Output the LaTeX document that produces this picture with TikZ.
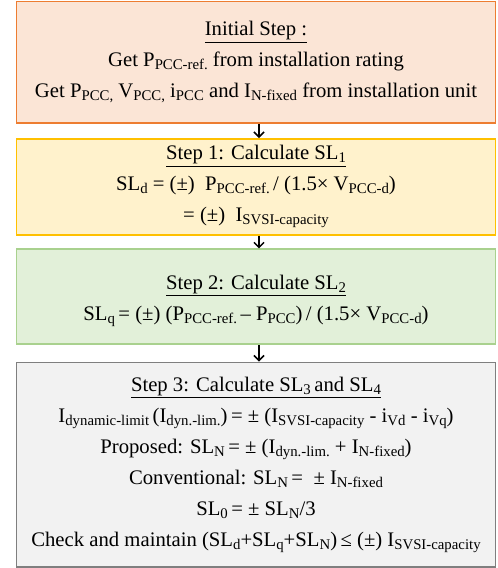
\documentclass[tikz,border=0pt]{standalone}
\usepackage{fontspec}
\setmainfont{Liberation Serif}
\usetikzlibrary{arrows.meta}
\newcommand{\sbs}[1]{\raisebox{-0.3ex}{\fontsize{14.8}{14.8}\selectfont #1}}
\definecolor{orB}{HTML}{ED7D31}\definecolor{orF}{HTML}{FBE5D6}
\definecolor{ylB}{HTML}{FFC000}\definecolor{ylF}{HTML}{FFF2CC}
\definecolor{grB}{HTML}{A9D18E}\definecolor{grF}{HTML}{E2F0D9}
\definecolor{gyB}{HTML}{7F7F7F}\definecolor{gyF}{HTML}{F2F2F2}
\tikzset{
  stepbox/.style={draw, line width=1.8pt, minimum width=479pt, inner sep=0pt, align=center,
    font=\fontsize{20.7}{31}\selectfont},
  arr/.style={line width=1.5pt, -{Straight Barb[length=5pt,width=10pt,line width=1.5pt]}}
}
\begin{document}
\begin{tikzpicture}[x=1pt,y=-1pt]
\useasboundingbox (0,0) rectangle (498,568);
\node[stepbox, draw=orB, fill=orF, minimum height=121.5pt] (b1) at (256,62.3)
 {\underline{Initial Step :}\\
  Get P\sbs{PCC-ref.} from installation rating\\
  Get P\sbs{PCC,} V\sbs{PCC,} i\sbs{PCC} and I\sbs{N-fixed} from installation unit};
\node[stepbox, draw=ylB, fill=ylF, minimum height=95.7pt] (b2) at (256,186.8)
 {\underline{Step 1: Calculate SL\sbs{1}}\\
  SL\sbs{d} = (±)\ \ P\sbs{PCC-ref.}\,/ (1.5× V\sbs{PCC-d})\\
  = (±)\ \ I\sbs{SVSI-capacity}};
\node[stepbox, draw=grB, fill=grF, minimum height=95pt] (b3) at (256,296.8) {};
\node[align=center, font=\fontsize{20.7}{31}\selectfont] (t3) at (256,301)
 {\underline{Step 2: Calculate SL\sbs{2}}\\
  SL\sbs{q}\,= (±) (P\sbs{PCC-ref.}\,– P\sbs{PCC})\,/ (1.5× V\sbs{PCC-d})};
\node[stepbox, draw=gyB, fill=gyF, minimum height=204.5pt] (b4) at (256,464.7)
 {\underline{Step 3: Calculate SL\sbs{3}\,and SL\sbs{4}}\\
  I\sbs{dynamic-limit}\,(I\sbs{dyn.-lim.})\,= ± (I\sbs{SVSI-capacity} - i\sbs{Vd} - i\sbs{Vq})\\
  Proposed: SL\sbs{N}\,= ± (I\sbs{dyn.-lim.} + I\sbs{N-fixed})\\
  Conventional: SL\sbs{N}\,= \ ± I\sbs{N-fixed}\\
  SL\sbs{0}\,= ± SL\sbs{N}/3\\
  Check and maintain (SL\sbs{d}+SL\sbs{q}+SL\sbs{N})\,≤ (±) I\sbs{SVSI-capacity}};
\draw[arr] ([xshift=3pt]b1.south) -- ([xshift=3pt]b2.north);
\draw[arr] ([xshift=3pt]b2.south) -- ([xshift=3pt]b3.north);
\draw[arr] ([xshift=3pt]b3.south) -- ([xshift=3pt]b4.north);
\end{tikzpicture}
\end{document}
